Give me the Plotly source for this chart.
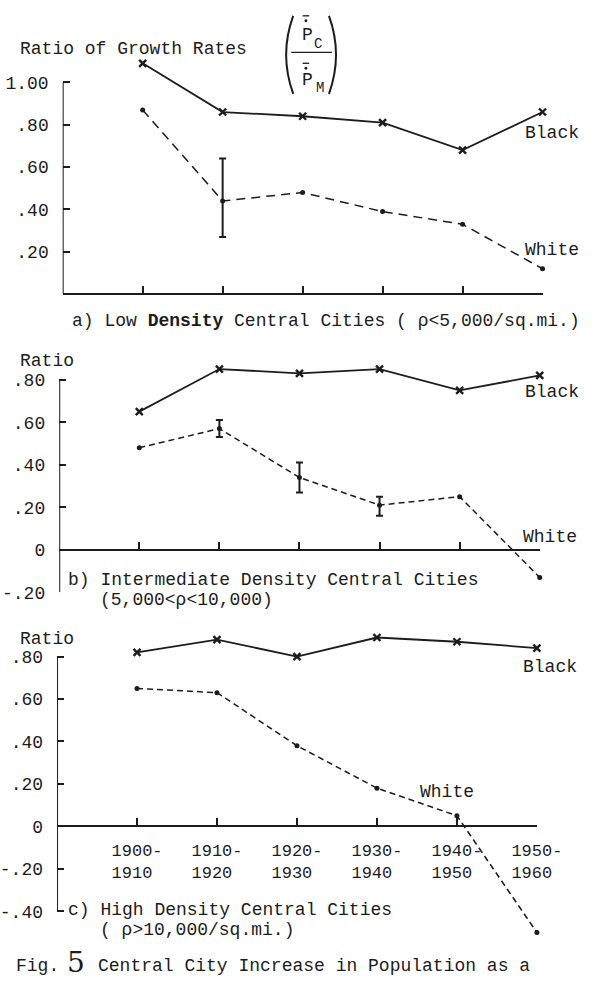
import plotly.graph_objects as go

W, H = 609, 984
INK = "#1c1c1c"
FONT = "Liberation Mono"

# ---------------- data ----------------
periods = ["1900-1910", "1910-1920", "1920-1930", "1930-1940", "1940-1950", "1950-1960"]

# a) Low density central cities
black_low = [1.09, 0.86, 0.84, 0.81, 0.68, 0.86]
white_low = [0.87, 0.44, 0.48, 0.39, 0.33, 0.12]
white_low_hi = [None, 0.64, None, None, None, None]
white_low_lo = [None, 0.27, None, None, None, None]

# b) Intermediate density central cities
black_mid = [0.65, 0.85, 0.83, 0.85, 0.75, 0.82]
white_mid = [0.48, 0.57, 0.34, 0.21, 0.25, -0.13]
white_mid_hi = [None, 0.61, 0.41, 0.25, None, None]
white_mid_lo = [None, 0.53, 0.27, 0.16, None, None]

# c) High density central cities
black_high = [0.82, 0.88, 0.80, 0.89, 0.87, 0.84]
white_high = [0.65, 0.63, 0.38, 0.18, 0.05, -0.50]

yticks_low = [0.2, 0.4, 0.6, 0.8, 1.0]
ylabels_low = [".20", ".40", ".60", ".80", "1.00"]
yticks_mid = [-0.2, 0.0, 0.2, 0.4, 0.6, 0.8]
ylabels_mid = ["-.20", "0", ".20", ".40", ".60", ".80"]
yticks_high = [-0.4, -0.2, 0.0, 0.2, 0.4, 0.6, 0.8]
ylabels_high = ["-.40", "-.20", "0", ".20", ".40", ".60", ".80"]

# ---------------- layout helpers ----------------
def pxx(p):
    return p / W

def pxy(p):
    return 1 - p / H

xs = list(range(1, len(periods) + 1))
year_labels = [p.split("-")[0] + "-<br>" + p.split("-")[1] + "&nbsp;" for p in periods]

panels = [
    dict(black=black_low, white=white_low, hi=white_low_hi, lo=white_low_lo,
         x0=56, x6=566, yzero=297.5, ppu=214.2, yr=[0.0, 1.13], axlo=0.0, axhi=1.0,
         yt=yticks_low, yl=ylabels_low, dash="9px,6px", labels=False),
    dict(black=black_mid, white=white_mid, hi=white_mid_hi, lo=white_mid_lo,
         x0=52.3, x6=563, yzero=556, ppu=215, yr=[-0.2, 0.9], axlo=-0.2, axhi=0.8,
         yt=yticks_mid, yl=ylabels_mid, dash="6px,4px", labels=False),
    dict(black=black_high, white=white_high, hi=None, lo=None,
         x0=50, x6=560, yzero=835.7, ppu=214.6, yr=[-0.53, 0.93], axlo=-0.4, axhi=0.8,
         yt=yticks_high, yl=ylabels_high, dash="6px,4px", labels=True),
]

fig = go.Figure()
shapes = []
layout = {}

for i, p in enumerate(panels, start=1):
    sx = "" if i == 1 else str(i)
    xa, ya = "x" + sx, "y" + sx
    # black series
    fig.add_trace(go.Scatter(
        x=xs, y=p["black"], xaxis=xa, yaxis=ya, mode="lines+markers",
        line=dict(color=INK, width=1.8),
        marker=dict(symbol="x-thin", size=7, line=dict(color=INK, width=2.4)),
        cliponaxis=False, showlegend=False, hoverinfo="skip"))
    # white series
    fig.add_trace(go.Scatter(
        x=xs, y=p["white"], xaxis=xa, yaxis=ya, mode="lines+markers",
        line=dict(color=INK, width=1.5, dash=p["dash"]),
        marker=dict(symbol="circle", size=5, color=INK),
        cliponaxis=False, showlegend=False, hoverinfo="skip"))
    # ranges (error bars)
    if p["hi"] is not None:
        ex, ey, eplus, eminus = [], [], [], []
        for xv, yv, h, l in zip(xs, p["white"], p["hi"], p["lo"]):
            if h is not None:
                ex.append(xv); ey.append(yv)
                eplus.append(h - yv); eminus.append(yv - l)
        fig.add_trace(go.Scatter(
            x=ex, y=ey, xaxis=xa, yaxis=ya, mode="markers",
            marker=dict(size=1, color="rgba(0,0,0,0)"),
            error_y=dict(type="data", symmetric=False, array=eplus, arrayminus=eminus,
                         color=INK, thickness=2, width=3.5),
            cliponaxis=False, showlegend=False, hoverinfo="skip"))

    ytop_px = p["yzero"] - p["yr"][1] * p["ppu"]
    ybot_px = p["yzero"] - p["yr"][0] * p["ppu"]
    layout["xaxis" + sx] = dict(
        domain=[pxx(p["x0"]), pxx(p["x6"])], range=[0, len(periods)],
        anchor="free", position=pxy(p["yzero"]),
        showline=True, linewidth=2, linecolor=INK,
        ticks="inside", ticklen=7, tickwidth=2, tickcolor=INK,
        tickvals=xs, ticktext=year_labels if p["labels"] else None,
        showticklabels=p["labels"], showgrid=False, zeroline=False,
        ticklabelstandoff=8,
        tickfont=dict(family=FONT, size=17, color=INK), fixedrange=True)
    layout["yaxis" + sx] = dict(
        domain=[pxy(ybot_px), pxy(ytop_px)], range=p["yr"], anchor=xa,
        showline=False, ticks="inside", ticklen=7, tickwidth=2, tickcolor=INK,
        tickvals=p["yt"], ticktext=p["yl"], showgrid=False, zeroline=False,
        ticklabelstandoff=13,
        tickfont=dict(family=FONT, size=18, color=INK), fixedrange=True)
    # vertical axis line (limited extent)
    shapes.append(dict(type="line", xref=xa, yref=ya, x0=0, x1=0,
                       y0=p["axlo"], y1=p["axhi"], line=dict(color=INK, width=2)))

# ---------------- text ----------------
def ann(text, x, y, xanchor="left", size=18, **kw):
    d = dict(text=text, x=pxx(x), y=pxy(y), xref="paper", yref="paper",
             xanchor=xanchor, yanchor="middle", showarrow=False,
             font=dict(family=FONT, size=size, color=INK))
    d.update(kw)
    return d

annotations = [
    ann("Ratio of Growth Rates", 9, 50),
    ann("Black", 607, 134, xanchor="right"),
    ann("White", 607, 253, xanchor="right"),
    ann("a) Low <b>Density</b> Central Cities ( ρ<5,000/sq.mi.)", 64, 325),
    ann("Ratio", 8, 365),
    ann("Black", 607, 396, xanchor="right"),
    ann("White", 605, 543, xanchor="right"),
    ann("b) Intermediate Density Central Cities", 60, 587),
    ann("(5,000<ρ<10,000)", 94, 607),
    ann("Ratio", 8, 646),
    ann("Black", 605, 675, xanchor="right"),
    ann("White", 434, 801),
    ann("c) High Density Central Cities", 60, 920),
    ann("( ρ>10,000/sq.mi.)", 94, 941),
    ann("Fig.", 4, 977),
    ann("5", 58, 973, size=28, font=dict(family="DejaVu Serif", size=28, color=INK)),
    ann("Central City Increase in Population as a", 91, 977),
    # fraction  (P_C / P_M)
    ann("P", 316, 35, xanchor="center"),
    ann("C", 327, 44, xanchor="center", size=14),
    ann("P", 316, 81, xanchor="center"),
    ann("M", 330, 89, xanchor="center", size=14),
]

def pline(xa_, ya_, xb_, yb_, w=1.5):
    return dict(type="line", xref="paper", yref="paper", x0=pxx(xa_), y0=pxy(ya_),
                x1=pxx(xb_), y1=pxy(yb_), line=dict(color=INK, width=w))

def ppath(pts, w=2):
    (a, b), (c, d), (e, f) = pts
    path = "M %f,%f Q %f,%f %f,%f" % (pxx(a), pxy(b), pxx(c), pxy(d), pxx(e), pxy(f))
    return dict(type="path", xref="paper", yref="paper", path=path,
                line=dict(color=INK, width=w))

shapes += [
    ppath([(301, 16), (286, 55), (301, 95)]),
    ppath([(339, 16), (354, 55), (339, 95)]),
    pline(299, 53, 342, 53, 1.3),
    pline(311, 16, 318, 16, 1.3),
    pline(311, 64, 318, 64, 1.3),
    dict(type="circle", xref="paper", yref="paper", x0=pxx(313), x1=pxx(316),
         y0=pxy(22.5), y1=pxy(19.5), fillcolor=INK, line=dict(width=0)),
    dict(type="circle", xref="paper", yref="paper", x0=pxx(313), x1=pxx(316),
         y0=pxy(70.5), y1=pxy(67.5), fillcolor=INK, line=dict(width=0)),
]

fig.update_layout(
    width=W, height=H, margin=dict(l=0, r=0, t=0, b=0),
    paper_bgcolor="white", plot_bgcolor="rgba(0,0,0,0)",
    showlegend=False, shapes=shapes, annotations=annotations,
    font=dict(family=FONT, size=18, color=INK),
    **layout)

fig.write_html("out.html")
